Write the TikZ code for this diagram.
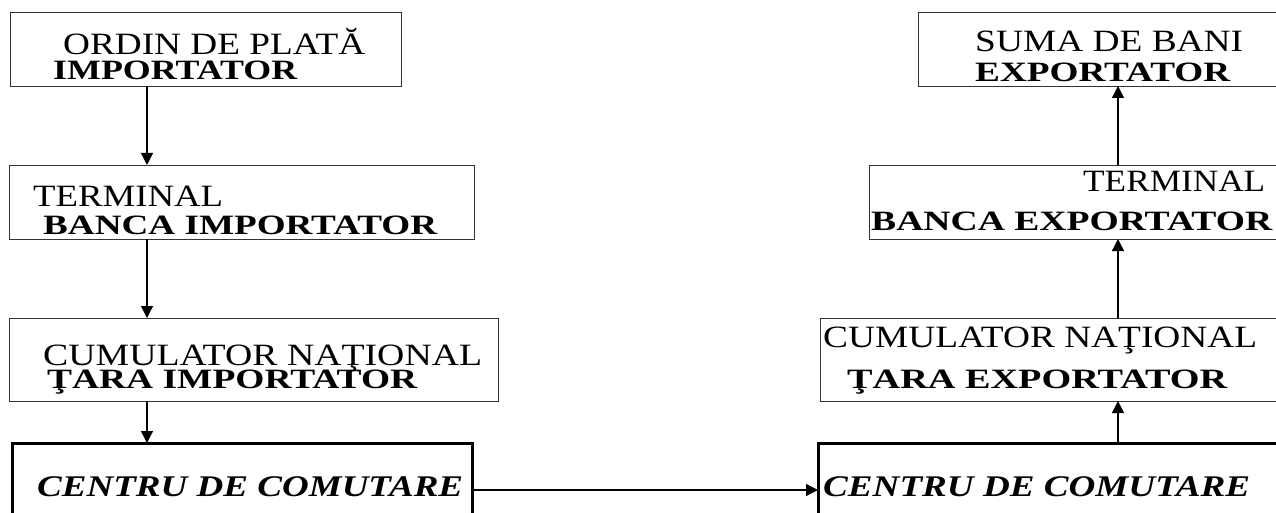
\documentclass[tikz,border=0pt]{standalone}
\usepackage{fontspec}
\setmainfont{Liberation Serif}
\usetikzlibrary{arrows.meta}
% set a text line to a given width, keeping its natural height
\newcommand\widthto[2]{\resizebox{#1pt}{\height}{#2}}

\begin{document}
\begin{tikzpicture}[x=1pt,y=-1pt,
  box/.style={draw=black!80, line width=0.9pt, inner sep=0pt, outer sep=0pt, anchor=north west},
  heavybox/.style={box, draw=black, line width=3pt},
  arr/.style={-{Triangle[length=12pt,width=12pt]}, line width=1.3pt},
  reg/.style={anchor=base west, inner sep=0pt, font=\fontsize{31}{31}\selectfont},
  bld/.style={anchor=base west, inner sep=0pt, font=\fontsize{28}{28}\selectfont\bfseries},
  bit/.style={anchor=base west, inner sep=0pt, font=\fontsize{30}{30}\selectfont\bfseries\itshape},
]
\useasboundingbox (0,0) rectangle (1276,513);
\clip (0,0) rectangle (1276,513);

% importer side
\node[box, minimum width=391pt, minimum height=74pt] (b1) at (10,12) {};
\node[box, minimum width=465pt, minimum height=74pt] (b2) at (9,165) {};
\node[box, minimum width=489pt, minimum height=83pt] (b3) at (9,318) {};
\node[heavybox, minimum width=460pt, minimum height=90pt] (b4) at (12,443) {};

% exporter side
\node[box, minimum width=372pt, minimum height=74pt] (r1) at (918,12) {};
\node[box, minimum width=421pt, minimum height=74pt] (r2) at (869,165) {};
\node[box, minimum width=470pt, minimum height=83pt] (r3) at (820,318) {};
\node[heavybox, minimum width=472pt, minimum height=90pt] (r4) at (818,443) {};

% box texts
\node[reg] (t1) at (63,55) {\widthto{302}{ORDIN DE PLATĂ}};
\node[bld] (t2) at (53,80) {\widthto{244}{IMPORTATOR}};
\node[reg] (t3) at (33,206) {\widthto{190}{TERMINAL}};
\node[bld] (t4) at (43,234) {\widthto{394}{BANCA IMPORTATOR}};
\node[reg] (t5) at (43,365) {\widthto{439}{CUMULATOR NAŢIONAL}};
\node[bld] (t6) at (47,388) {\widthto{370}{ŢARA IMPORTATOR}};
\node[bit] (t7) at (37,496) {\widthto{426}{CENTRU DE COMUTARE}};

\node[reg] (u1) at (975,52) {\widthto{268}{SUMA DE BANI}};
\node[bld] (u2) at (975,82) {\widthto{255}{EXPORTATOR}};
\node[reg] (u3) at (1083,192) {\widthto{182}{TERMINAL}};
\node[bld] (u4) at (871,230) {\widthto{401}{BANCA EXPORTATOR}};
\node[reg] (u5) at (823,347) {\widthto{434}{CUMULATOR NAŢIONAL}};
\node[bld] (u6) at (847,388) {\widthto{380}{ŢARA EXPORTATOR}};
\node[bit] (u7) at (823,496) {\widthto{427}{CENTRU DE COMUTARE}};

% connector guides
\coordinate (lx) at (147,0);
\coordinate (rx) at (1118,0);
\coordinate (hy) at (0,490);

% flow
\draw[arr] (b1.south -| lx) -- (b2.north -| lx);
\draw[arr] (b2.south -| lx) -- (b3.north -| lx);
\draw[arr] (b3.south -| lx) -- (b4.north -| lx);
\draw[arr] (b4.east |- hy) -- (r4.west |- hy);
\draw[arr] (r4.north -| rx) -- (r3.south -| rx);
\draw[arr] (r3.north -| rx) -- (r2.south -| rx);
\draw[arr] (r2.north -| rx) -- (r1.south -| rx);
\end{tikzpicture}
\end{document}
